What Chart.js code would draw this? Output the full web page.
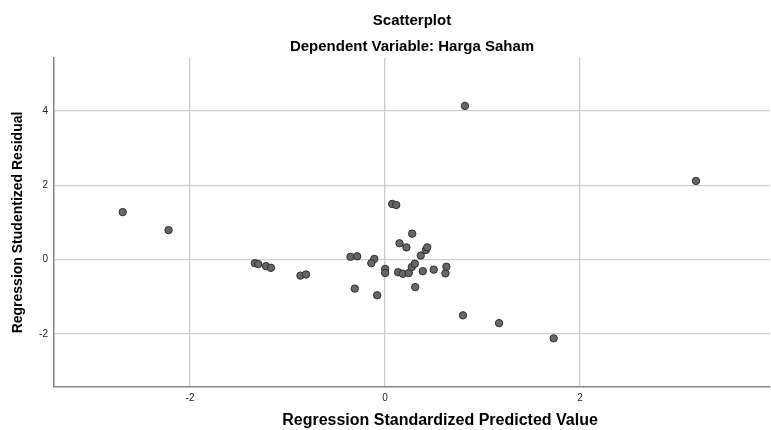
<!DOCTYPE html>
<html>
<head>
<meta charset="utf-8">
<title>Scatterplot</title>
<script src="https://cdn.jsdelivr.net/npm/chart.js@4.4.1/dist/chart.umd.min.js"></script>
<style>
  html, body { margin: 0; padding: 0; background: #fff; }
</style>
</head>
<body>
<canvas id="chart" width="771" height="430"></canvas>
<script>
// values
const predicted = [
  -2.69, -2.22, -1.335, -1.30, -1.22, -1.17, -0.867, -0.81,
  -0.354, -0.285, -0.31, -0.11, -0.14, -0.08, 0.002, 0.002,
  0.074, 0.115, 0.135, 0.149, 0.183, 0.22, 0.244, 0.275,
  0.279, 0.306, 0.31, 0.367, 0.388, 0.42, 0.433, 0.50,
  0.62, 0.63, 0.80, 0.82, 1.17, 1.73, 3.19
]
const residual = [
  1.28, 0.795, -0.094, -0.12, -0.175, -0.22, -0.43, -0.40,
  0.075, 0.09, -0.78, 0.02, -0.095, -0.96, -0.25, -0.36,
  1.50, 1.47, -0.34, 0.44, -0.38, 0.33, -0.36, -0.20,
  0.70, -0.11, -0.74, 0.11, -0.31, 0.26, 0.33, -0.27,
  -0.37, -0.19, -1.50, 4.14, -1.71, -2.12, 2.12
]
const xTicks = [-2, 0, 2]
const yTicks = [-2, 0, 2, 4]

const chartTitle = 'Scatterplot'
const chartSubtitle = 'Dependent Variable: Harga Saham'
const xTitle = 'Regression Standardized Predicted Value'
const yTitle = 'Regression Studentized Residual'

const fontFamily = '"Liberation Sans", Arial, sans-serif'

let points = []
for (let i = 0; i < predicted.length; i++) {
  points.push({x: predicted[i], y: residual[i]})
}

// SPSS puts the x title a bit right of the axis centre, so draw it by hand
const xTitlePlugin = {
  id: 'xTitle',
  afterDraw(chart) {
    const ctx = chart.ctx
    ctx.save()
    ctx.font = 'bold 16px ' + fontFamily
    ctx.fillStyle = '#000'
    ctx.textAlign = 'center'
    ctx.textBaseline = 'alphabetic'
    ctx.fillText(xTitle, 440, 425)
    ctx.restore()
  }
}

const gridColor = '#cdcdcd'
const axisColor = '#858585'

new Chart(document.getElementById('chart'), {
  type: 'scatter',
  data: {
    datasets: [{
      label: 'Residuals',
      data: points,
      backgroundColor: '#676767',
      borderColor: '#2e2e2e',
      borderWidth: 1,
      pointRadius: 3.7,
      pointHoverRadius: 3.7
    }]
  },
  options: {
    responsive: false,
    animation: false,
    devicePixelRatio: 1,
    // autoPadding reserves room for the point radius on the right, not wanted here
    layout: {autoPadding: false, padding: {left: 0, right: 1, top: 0, bottom: 0}},
    plugins: {
      legend: {display: false},
      tooltip: {enabled: false},
      title: {
        display: true,
        text: chartTitle,
        fullSize: false,
        color: '#000',
        font: {family: fontFamily, size: 15, weight: 'bold'},
        padding: {top: 12, bottom: 0}
      },
      subtitle: {
        display: true,
        text: chartSubtitle,
        fullSize: false,
        color: '#000',
        font: {family: fontFamily, size: 15, weight: 'bold'},
        padding: {top: 8, bottom: 2}
      }
    },
    scales: {
      x: {
        type: 'linear',
        min: -3.395,
        max: 3.949,
        afterBuildTicks: (scale) => { scale.ticks = xTicks.map(v => ({value: v})) },
        afterFit: (scale) => {
          scale.height = 43
          scale.paddingLeft = 0
          scale.paddingRight = 0
        },
        ticks: {
          color: '#222',
          font: {family: fontFamily, size: 10},
          padding: 5,
          maxRotation: 0
        },
        grid: {color: gridColor, lineWidth: 1.3, drawTicks: false},
        border: {color: axisColor, width: 1.5}
      },
      y: {
        type: 'linear',
        min: -3.43,
        max: 5.43,
        afterBuildTicks: (scale) => { scale.ticks = yTicks.map(v => ({value: v})) },
        afterFit: (scale) => {
          scale.width = 54
          scale.paddingTop = 0
          scale.paddingBottom = 0
        },
        ticks: {
          color: '#222',
          font: {family: fontFamily, size: 10},
          padding: 6
        },
        grid: {color: gridColor, lineWidth: 1.3, drawTicks: false},
        border: {color: axisColor, width: 1.5},
        title: {
          display: true,
          text: yTitle,
          color: '#000',
          font: {family: fontFamily, size: 14, weight: 'bold'},
          padding: {top: 10, bottom: 0}
        }
      }
    }
  },
  plugins: [xTitlePlugin]
})
</script>
</body>
</html>
